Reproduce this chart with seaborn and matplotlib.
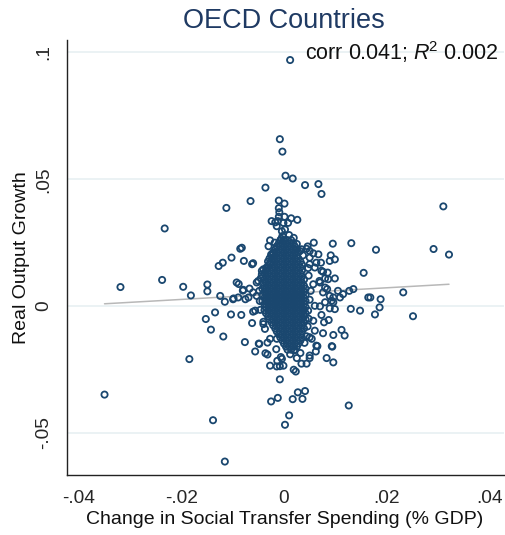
import matplotlib
matplotlib.use("Agg")
import matplotlib.pyplot as plt
import seaborn as sns
import pandas as pd

sns.set_style("white")
plt.rcParams['font.family'] = ['Liberation Sans', 'DejaVu Sans']
plt.rcParams['mathtext.fontset'] = 'custom'
plt.rcParams['mathtext.rm'] = 'Liberation Sans'
plt.rcParams['mathtext.it'] = 'Liberation Sans:italic'

# ---------------- data ----------------
title = "OECD Countries"
x_label = "Change in Social Transfer Spending (% GDP)"
y_label = "Real Output Growth"
x_ticks = [-0.04, -0.02, 0, 0.02, 0.04]
x_tick_labels = ["-.04", "-.02", "0", ".02", ".04"]
y_ticks = [-0.05, 0, 0.05, 0.1]
y_tick_labels = ["-.05", "0", ".05", ".1"]
stats_text = "corr 0.041; $R^{\\!2}$ 0.002"

# linear fit line (endpoints)
fit_x = [-0.0349, 0.0321]
fit_y = [0.0009, 0.0086]

# individually readable observations
outlier_x = [
    .0012, -.0008, -.0003, .0003, .0017, .0041, .0067, .0073, -.0036, -.0065,
    -.0010, .0001, -.0010, -.0009, -.0010, .0001, -.0024, -.0017, -.0012, -.0001,
    .0014, .0026, .0008, -.0014, -.0004, .0002, -.0003, .0019, -.0027, -.0030,
    .0058, .0095, -.0082, .0044, .0034, .0057, -.0025, .0091, .0310, .0291,
    .0321, .0131, .0179, .0099, .0089, .0072, .0155, .0073, .0080, .0086,
    .0099, .0080, .0084, .0105, .0127, .0135, .0115, .0109, .0096, .0164,
    .0168, .0188, .0232, .0186, .0177, .0251, .0148, .0130, .0099, .0089,
    .0073, .0087, .0076, .0096, .0112, .0118, .0093, -.0112, -.0232, -.0085,
    -.0102, -.0119, -.0127, -.0078, -.0318, -.0237, -.0196, -.0181, -.0149, -.0149,
    -.0088, -.0080, -.0124, -.0115, -.0099, -.0089, -.0075, -.0134, -.0152, -.0103,
    -.0083, -.0142, -.0118, -.0076, -.0184, -.0138, -.0115, .0126, .0002, .0010,
    -.0025, -.0012, .0017, .0036, .0027, .0041, -.0008, -.0056, -.0049, -.0036,
    -.0032, -.0032, -.0027, -.0014, -.0008, -.0001, -.0013, -.0004, .0019, .0023,
    .0025, .0034, .0044, .0050, .0062, .0065, .0083, .0096, .0094, -.0349,
    -.0062, -.0060, -.0040, -.0043, -.0050, -.0067, -.0060, -.0053, -.0060, -.0056,
    -.0062, -.0040, -.0037, -.0048, .0063, .0054, .0044, .0060, .0078, .0057,
    .0047, .0060, .0070, .0080, .0093, .0089, .0076, .0070, .0057, .0085,
    .0076, .0060, .0050, .0050, .0037, .0031, -.0092, -.0079, -.0098, -.0069,
    -.0053, -.0043, -.0034, -.0040, -.0027, -.0014, -.0006, .0050, .0050, .0096,
    .0069, .0063, .0067, .0050, -.0021, -.0027,
    .0048, .0052, .0050, .0048, .0046, .0047, -.0048, -.0047, -.0046, -.0045,
    .0040, .0032, .0012, .0020, -.0015, .0046, .0025, -.0005, .0010, -.0018,
]
outlier_y = [
    .0970, .0658, .0609, .0514, .0503, .0477, .0481, .0442, .0467, .0414,
    .0416, .0404, .0386, .0370, .0352, .0352, .0335, .0330, .0335, .0328,
    .0346, .0340, .0328, .0315, .0295, .0302, .0276, .0269, .0259, .0236,
    .0250, .0246, .0230, .0226, .0224, .0208, .0203, .0200, .0393, .0225,
    .0203, .0248, .0222, .0184, .0178, .0171, .0131, .0139, .0109, .0106,
    .0109, .0073, .0067, .0060, .0060, .0067, .0047, .0034, .0034, .0034,
    .0034, .0027, .0054, -.0005, -.0033, -.0040, -.0018, -.0011, -.0012, -.0009,
    -.0035, -.0055, -.0107, -.0114, -.0094, -.0116, -.0158, .0387, .0306, .0226,
    .0191, .0171, .0158, .0178, .0075, .0103, .0076, .0042, .0085, .0058,
    .0087, .0061, .0040, .0017, .0027, .0034, .0027, -.0025, -.0051, -.0033,
    -.0035, -.0093, -.0120, -.0142, -.0209, -.0450, -.0613, -.0392, -.0468, -.0431,
    -.0376, -.0362, -.0367, -.0366, -.0340, -.0335, -.0289, -.0179, -.0148, -.0186,
    -.0191, -.0144, -.0235, -.0238, -.0237, -.0235, -.0216, -.0208, -.0251, -.0258,
    -.0205, -.0227, -.0227, -.0205, -.0179, -.0158, -.0205, -.0222, -.0160, -.0349,
    .0165, .0169, .0145, .0125, .0099, .0069, .0054, .0040, -.0022, -.0018,
    -.0067, -.0071, -.0090, -.0149, -.0156, -.0129, -.0119, -.0097, -.0064, -.0058,
    -.0018, .0001, -.0001, .0015, .0021, .0040, .0054, .0093, .0086, .0132,
    .0135, .0152, .0165, .0191, .0200, .0217, .0093, .0064, .0030, .0034,
    .0093, .0139, .0152, -.0062, -.0129, -.0129, -.0201, -.0195, -.0123, .0015,
    .0099, .0171, .0204, .0217, .0208, .0171,
    .0120, .0060, .0025, -.0050, -.0080, .0150, .0060, .0020, -.0015, .0110,
    -.0145, -.0185, -.0190, -.0175, -.0170, .0235, .0245, .0265, .0280, .0250,
]

# dense central cloud: (growth level, spending changes at that level)
core_rows = [
    (.0260, [-.0007, 0, .0007, .0014]),
    (.0248, [-.0010, -.0003, .0004, .0011, .0018]),
    (.0236, [-.0014, -.0007, 0, .0007, .0014, .0021]),
    (.0224, [-.0017, -.0010, -.0003, .0004, .0011, .0018, .0025]),
    (.0212, [-.0021, -.0014, -.0007, 0, .0007, .0014, .0021, .0028]),
    (.0200, [-.0024, -.0017, -.0010, -.0003, .0004, .0011, .0018, .0025]),
    (.0188, [-.0028, -.0021, -.0014, -.0007, 0, .0007, .0014, .0021, .0028]),
    (.0176, [-.0031, -.0024, -.0017, -.0010, -.0003, .0004, .0011, .0018, .0025, .0032]),
    (.0164, [-.0028, -.0021, -.0014, -.0007, 0, .0007, .0014, .0021, .0028, .0035]),
    (.0152, [-.0031, -.0024, -.0017, -.0010, -.0003, .0004, .0011, .0018, .0025, .0032]),
    (.0140, [-.0035, -.0028, -.0021, -.0014, -.0007, 0, .0007, .0014, .0021, .0028, .0035]),
    (.0128, [-.0038, -.0031, -.0024, -.0017, -.0010, -.0003, .0004, .0011, .0018, .0025, .0032]),
    (.0116, [-.0035, -.0028, -.0021, -.0014, -.0007, 0, .0007, .0014, .0021, .0028, .0035]),
    (.0104, [-.0038, -.0031, -.0024, -.0017, -.0010, -.0003, .0004, .0011, .0018, .0025, .0032, .0039]),
    (.0092, [-.0042, -.0035, -.0028, -.0021, -.0014, -.0007, 0, .0007, .0014, .0021, .0028, .0035]),
    (.0080, [-.0038, -.0031, -.0024, -.0017, -.0010, -.0003, .0004, .0011, .0018, .0025, .0032, .0039]),
    (.0068, [-.0042, -.0035, -.0028, -.0021, -.0014, -.0007, 0, .0007, .0014, .0021, .0028, .0035, .0042]),
    (.0056, [-.0038, -.0031, -.0024, -.0017, -.0010, -.0003, .0004, .0011, .0018, .0025, .0032, .0039]),
    (.0044, [-.0042, -.0035, -.0028, -.0021, -.0014, -.0007, 0, .0007, .0014, .0021, .0028, .0035, .0042]),
    (.0032, [-.0038, -.0031, -.0024, -.0017, -.0010, -.0003, .0004, .0011, .0018, .0025, .0032, .0039]),
    (.0020, [-.0042, -.0035, -.0028, -.0021, -.0014, -.0007, 0, .0007, .0014, .0021, .0028, .0035, .0042]),
    (.0008, [-.0038, -.0031, -.0024, -.0017, -.0010, -.0003, .0004, .0011, .0018, .0025, .0032, .0039]),
    (-.0004, [-.0035, -.0028, -.0021, -.0014, -.0007, 0, .0007, .0014, .0021, .0028, .0035, .0042]),
    (-.0016, [-.0038, -.0031, -.0024, -.0017, -.0010, -.0003, .0004, .0011, .0018, .0025, .0032, .0039]),
    (-.0028, [-.0035, -.0028, -.0021, -.0014, -.0007, 0, .0007, .0014, .0021, .0028, .0035, .0042]),
    (-.0040, [-.0031, -.0024, -.0017, -.0010, -.0003, .0004, .0011, .0018, .0025, .0032, .0039]),
    (-.0052, [-.0028, -.0021, -.0014, -.0007, 0, .0007, .0014, .0021, .0028, .0035, .0042]),
    (-.0064, [-.0024, -.0017, -.0010, -.0003, .0004, .0011, .0018, .0025, .0032, .0039]),
    (-.0076, [-.0021, -.0014, -.0007, 0, .0007, .0014, .0021, .0028, .0035]),
    (-.0088, [-.0017, -.0010, -.0003, .0004, .0011, .0018, .0025, .0032, .0039]),
    (-.0100, [-.0014, -.0007, 0, .0007, .0014, .0021, .0028, .0035]),
    (-.0112, [-.0010, -.0003, .0004, .0011, .0018, .0025, .0032]),
    (-.0124, [-.0007, 0, .0007, .0014, .0021, .0028, .0035]),
    (-.0136, [-.0003, .0004, .0011, .0018, .0025, .0032]),
    (-.0148, [0, .0007, .0014, .0021, .0028]),
    (-.0160, [.0004, .0011, .0018, .0025]),
    (-.0172, [.0007, .0014, .0021]),
]

# ---------------- table ----------------
core_x = [x for _, xs in core_rows for x in xs]
core_y = [y for y, xs in core_rows for _ in xs]
df = pd.DataFrame({
    "spending": list(outlier_x) + core_x,
    "growth": list(outlier_y) + core_y,
})

# ---------------- figure ----------------
W, H = 506, 535
fig = plt.figure(figsize=(W / 100, H / 100), dpi=100)
ax = fig.add_axes([67 / W, 1 - 475 / H, (504 - 67) / W, (475 - 40) / H])

navy = "#1a476f"
for yt in y_ticks:
    ax.axhline(yt, color="#e8f0f2", lw=1.2, zorder=0)

sns.lineplot(x=fit_x, y=fit_y, color="#b8b8b8", lw=1.1, ax=ax, zorder=2)
sns.scatterplot(data=df, x="spending", y="growth", marker="o", s=20,
                facecolor="none", edgecolor=navy, linewidth=1.3,
                ax=ax, zorder=3, legend=False)

ax.set_xlim(-0.0422, 0.0428)
ax.set_ylim(-0.0666, 0.1049)
ax.set_xticks(x_ticks)
ax.set_xticklabels(x_tick_labels)
ax.set_yticks(y_ticks)
ax.set_yticklabels(y_tick_labels, rotation=90, va="center")
ax.tick_params(axis="both", direction="out", length=5.5, width=1.0,
               color="#222222", labelsize=13.8, pad=5)
ax.set_xlabel("")
ax.set_ylabel("")
for s in ["top", "right"]:
    ax.spines[s].set_visible(False)
for s in ["left", "bottom"]:
    ax.spines[s].set_color("#222222")
    ax.spines[s].set_linewidth(1.0)
ax.grid(False)

fig.text(284 / W, 1 - 21 / H, title, ha="center", va="center",
         fontsize=19.5, color="#1f3a63")
fig.text(498 / W, 1 - 52 / H, stats_text, ha="right", va="center",
         fontsize=15.5, color="#111111")
fig.text(22 / W, 1 - 258 / H, y_label, rotation=90, ha="center", va="center",
         fontsize=14, color="#111111")
fig.text(285 / W, 1 - 520 / H, x_label, ha="center", va="center",
         fontsize=14, color="#111111")

fig.savefig("out.png", dpi=100)
